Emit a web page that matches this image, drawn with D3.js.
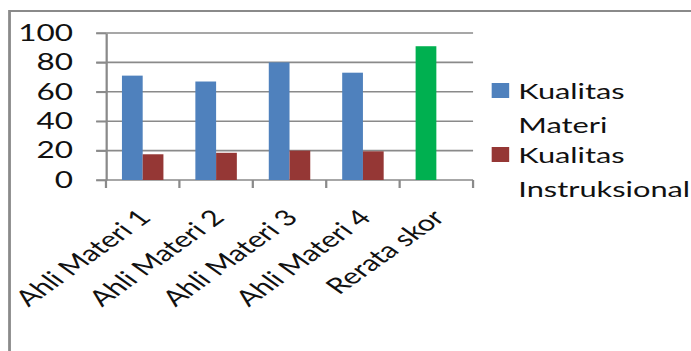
<!DOCTYPE html>
<html>
<head>
<meta charset="utf-8">
<script src="https://cdn.jsdelivr.net/npm/d3@7"></script>
<style>
  body { margin: 0; background: #ffffff; }
  svg { display: block; font-family: Lato, "Open Sans", sans-serif; }
</style>
</head>
<body>
<svg id="chart" width="691" height="351"></svg>
<script>
//Data
var categories = ["Ahli Materi 1", "Ahli Materi 2", "Ahli Materi 3", "Ahli Materi 4", "Rerata skor"];
var seriesNames = ["Kualitas Materi", "Kualitas Instruksional"];
var kualitasMateri = [71, 67, 80, 73, 91];
var kualitasInstruksional = [17.5, 18.5, 20, 19.5, null];
var yTicks = [0, 20, 40, 60, 80, 100];
var legendLines = [["Kualitas", "Materi"], ["Kualitas", "Instruksional"]];

//Colours
var colors = ["#4f81bd", "#953735"];
var highlight = "#00b050";
var gridColor = "#8a8a8a";

//The picture is stretched sideways, so draw in a narrow frame and scale it
var stretch = 1.4;

var dimensions = {
    width: 691 / stretch,
    height: 351,
    margin: { top: 33, bottom: 171, left: 75.7, right: 691 / stretch - 337.9 }
};

var svg = d3.select("#chart");
var root = svg.append("g").attr("transform", "scale(" + stretch + ",1)");

//Scales
var xScale = d3.scaleBand()
               .domain(categories)
               .range([dimensions.margin.left, dimensions.width - dimensions.margin.right])
               .padding(0);

var xInner = d3.scaleBand()
               .domain(seriesNames)
               .range([0, xScale.bandwidth()])
               .paddingInner(0)
               .paddingOuter(0.77);

var yScale = d3.scaleLinear()
               .domain([0, 100])
               .range([dimensions.height - dimensions.margin.bottom, dimensions.margin.top]);

//Chart frame (top and left edges only are in view)
root.append("line")
    .attr("x1", 6.8).attr("x2", dimensions.width + 5)
    .attr("y1", 11).attr("y2", 11)
    .style("stroke", gridColor).style("stroke-width", 2);
root.append("line")
    .attr("x1", 6.8).attr("x2", 6.8)
    .attr("y1", 10).attr("y2", dimensions.height + 5)
    .style("stroke", gridColor).style("stroke-width", 2);

//Gridlines
root.append("g")
    .selectAll("line")
    .data(yTicks)
    .enter()
    .append("line")
    .attr("x1", dimensions.margin.left - 7)
    .attr("x2", dimensions.width - dimensions.margin.right)
    .attr("y1", function(d){ return yScale(d); })
    .attr("y2", function(d){ return yScale(d); })
    .style("stroke", gridColor)
    .style("stroke-width", 1.6);

//Y-axis
var yAxisGen = d3.axisLeft(yScale).tickValues(yTicks).tickSize(7).tickSizeOuter(0).tickPadding(16.5);
var yAxis = root.append("g")
                .attr("transform", "translate(" + dimensions.margin.left + ",0)")
                .call(yAxisGen);
yAxis.select(".domain").style("stroke", gridColor).style("stroke-width", 1.6);
yAxis.selectAll(".tick line").style("stroke", gridColor).style("stroke-width", 1.6);
yAxis.selectAll("text")
     .style("font-family", "Lato, sans-serif")
     .style("font-size", "22.5px")
     .style("fill", "#111");

//Category ticks
var tickXs = categories.map(function(c){ return xScale(c); }).concat([xScale.range()[1]]);
root.append("g")
    .selectAll("line")
    .data(tickXs)
    .enter()
    .append("line")
    .attr("x1", function(d){ return d; })
    .attr("x2", function(d){ return d; })
    .attr("y1", yScale(0))
    .attr("y2", yScale(0) + 8)
    .style("stroke", gridColor)
    .style("stroke-width", 1.6);

//Bars
var barData = [];
categories.forEach(function(c, i){
    [kualitasMateri, kualitasInstruksional].forEach(function(values, s){
        if (values[i] !== null) {
            barData.push({ cat: c, series: seriesNames[s], s: s, value: values[i] });
        }
    });
});

root.append("g")
    .selectAll("rect")
    .data(barData)
    .enter()
    .append("rect")
    .attr("x", function(d){ return xScale(d.cat) + xInner(d.series); })
    .attr("y", function(d){ return yScale(d.value); })
    .attr("width", xInner.bandwidth())
    .attr("height", function(d){ return yScale(0) - yScale(d.value); })
    .style("fill", function(d){
        return d.cat === "Rerata skor" ? highlight : colors[d.s];
    });

//Category labels
root.append("g")
    .selectAll("text")
    .data(categories)
    .enter()
    .append("text")
    .attr("transform", function(d){
        return "translate(" + (xScale(d) + xScale.bandwidth() / 2 + 7) + "," + 219 + ") rotate(-45)";
    })
    .attr("text-anchor", "end")
    .style("font-size", "22px")
    .style("fill", "#111")
    .text(function(d){ return d; });

//Legend
var legend = root.append("g")
                 .selectAll("g")
                 .data(legendLines)
                 .enter()
                 .append("g")
                 .attr("transform", function(d, i){ return "translate(0," + (i * 64) + ")"; });

legend.append("rect")
      .attr("x", 351.2)
      .attr("y", 83)
      .attr("width", 12.5)
      .attr("height", 15)
      .style("fill", function(d, i){ return colors[i]; });

legend.selectAll("text")
      .data(function(d){ return d; })
      .enter()
      .append("text")
      .attr("x", 370.2)
      .attr("y", function(d, j){ return 99.5 + j * 34; })
      .style("font-size", "22px")
      .style("fill", "#111")
      .text(function(d){ return d; });
</script>
</body>
</html>
